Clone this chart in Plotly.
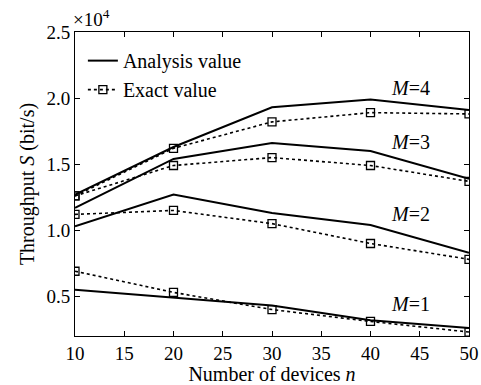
import plotly.graph_objects as go

# Number of devices n
devices = [10, 20, 30, 40, 50]

# Throughput S in units of 10^4 bit/s, for M = 1..4
analysis_m1 = [0.55, 0.49, 0.43, 0.32, 0.26]
analysis_m2 = [1.03, 1.27, 1.13, 1.04, 0.83]
analysis_m3 = [1.17, 1.54, 1.66, 1.60, 1.39]
analysis_m4 = [1.27, 1.63, 1.93, 1.99, 1.91]

exact_m1 = [0.69, 0.53, 0.40, 0.31, 0.23]
exact_m2 = [1.12, 1.15, 1.05, 0.90, 0.78]
exact_m3 = [1.26, 1.49, 1.55, 1.49, 1.37]
exact_m4 = [1.26, 1.62, 1.82, 1.89, 1.88]

m_labels = ["<i>M</i>=1", "<i>M</i>=2", "<i>M</i>=3", "<i>M</i>=4"]
m_label_y = [0.44, 1.12, 1.67, 2.08]
m_label_x = 44.1

FONT = "serif"

fig = go.Figure()

analysis = [analysis_m1, analysis_m2, analysis_m3, analysis_m4]
exact = [exact_m1, exact_m2, exact_m3, exact_m4]

for i, ys in enumerate(analysis):
    fig.add_trace(go.Scatter(
        x=devices, y=ys, mode="lines",
        line=dict(color="black", width=2),
        name="Analysis value", legendgroup="analysis",
        showlegend=(i == 0),
    ))

for i, ys in enumerate(exact):
    fig.add_trace(go.Scatter(
        x=devices, y=ys, mode="lines+markers",
        line=dict(color="black", width=1.6, dash="dot"),
        marker=dict(symbol="square-open", size=8, color="black",
                    line=dict(width=1.3, color="black")),
        name="Exact value", legendgroup="exact",
        showlegend=(i == 0),
    ))

for txt, yv in zip(m_labels, m_label_y):
    fig.add_annotation(x=m_label_x, y=yv, text=txt, showarrow=False,
                       font=dict(family=FONT, size=20, color="black"))

fig.add_annotation(xref="paper", yref="paper", x=-0.01, y=1.0,
                   xanchor="left", yanchor="bottom", text="×10<sup>4</sup>",
                   showarrow=False,
                   font=dict(family=FONT, size=19, color="black"))

axis_common = dict(
    showgrid=False, zeroline=False, showline=True, linecolor="black",
    linewidth=1, mirror="ticks", ticks="inside", ticklen=5,
    tickcolor="black", tickwidth=1, automargin=False,
    tickfont=dict(family=FONT, size=19, color="black"),
)

fig.update_layout(
    width=481, height=385,
    margin=dict(l=75, r=12, t=32, b=49),
    paper_bgcolor="white", plot_bgcolor="white",
    xaxis=dict(range=[10, 50], tickvals=[10, 15, 20, 25, 30, 35, 40, 45, 50],
               title=dict(text="Number of devices <i>n</i>", standoff=0,
                          font=dict(family=FONT, size=20, color="black")),
               **axis_common),
    yaxis=dict(range=[0.2, 2.5], tickvals=[0.5, 1.0, 1.5, 2.0, 2.5],
               ticktext=["0.5", "1.0", "1.5", "2.0", "2.5"],
               title=dict(text="Throughput <i>S</i> (bit/s)", standoff=6,
                          font=dict(family=FONT, size=20, color="black")),
               **axis_common),
    legend=dict(x=0.02, y=0.97, xanchor="left", yanchor="top",
                bgcolor="rgba(0,0,0,0)", borderwidth=0,
                font=dict(family=FONT, size=20, color="black"),
                tracegroupgap=0),
)

fig.write_html("out.html")
